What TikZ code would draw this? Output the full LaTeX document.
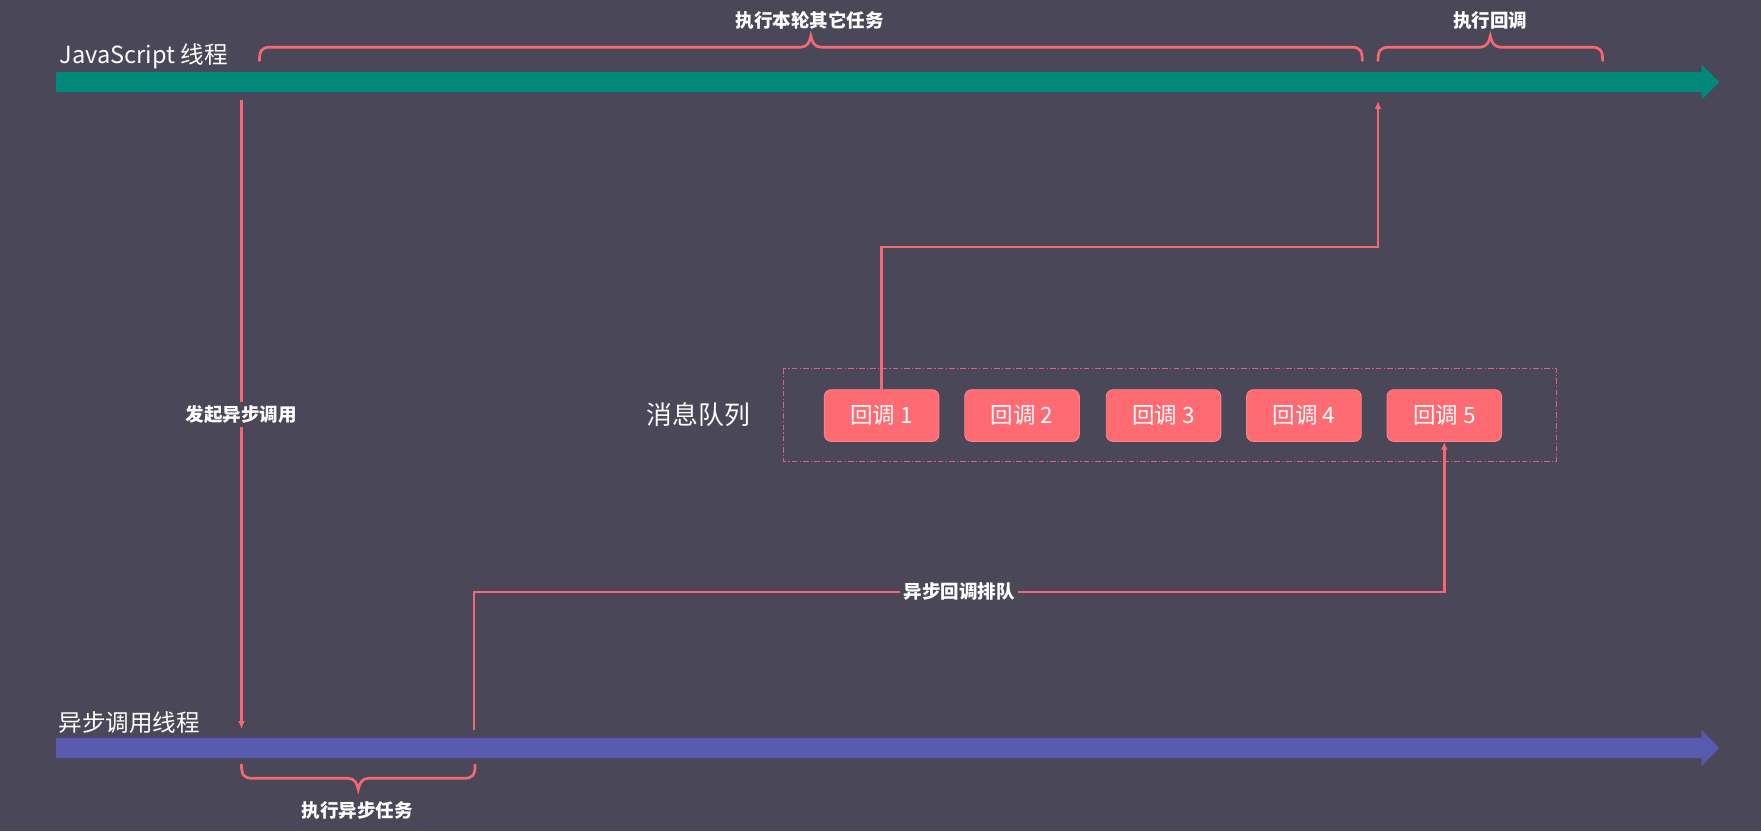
\documentclass[tikz,border=0pt]{standalone}
\usepackage{fontspec}
\setmainfont{Noto Sans CJK SC}
\usetikzlibrary{arrows.meta}
\definecolor{bgc}{RGB}{74,71,89}
\definecolor{jsteal}{RGB}{0,137,123}
\definecolor{asyncblue}{RGB}{88,90,176}
\definecolor{coral}{RGB}{255,107,115}
\definecolor{linec}{RGB}{245,104,114}
\definecolor{qdash}{RGB}{222,96,128}
\newcommand\mybrace[4]{% x1, x2, y of line, sign (tip direction)
  \draw[bracestyle] (#1,{#3-#4*12}) .. controls (#1,{#3-#4*3}) and ({#1+2},#3) .. ({#1+10},#3)
   -- ({(#1+#2)/2-9},#3) .. controls ({(#1+#2)/2-3},#3) and ({(#1+#2)/2-1},{#3+#4*5}) .. ({(#1+#2)/2},{#3+#4*10})
   .. controls ({(#1+#2)/2+1},{#3+#4*5}) and ({(#1+#2)/2+3},#3) .. ({(#1+#2)/2+9},#3)
   -- ({#2-10},#3) .. controls ({#2-2},#3) and (#2,{#3-#4*3}) .. (#2,{#3-#4*12});}
\begin{document}
\begin{tikzpicture}[x=1pt,y=-1pt,
  bracestyle/.style={draw=linec,line width=2.4pt,line cap=round},
  conn/.style={draw=linec,line width=2.4pt},
  tip/.style={-{Latex[length=7pt,width=6pt]}},
  lbl/.style={fill=bgc,text=white,inner sep=3pt,font=\fontsize{16.5}{18}\selectfont\bfseries},
  title/.style={text=white,inner sep=0pt,anchor=west,font=\fontsize{21}{24}\selectfont},
  cb/.style={fill=coral,draw=coral!85!white,line width=0.8pt,rounded corners=6pt,minimum width=102pt,minimum height=46pt,inner sep=0pt,text=white,font=\fontsize{20}{22}\selectfont}]
\fill[bgc] (0,0) rectangle (1568,740);
\useasboundingbox (0,0) rectangle (1568,740);
% thread bars
\fill[jsteal] (50,64) -- (1515,64) -- (1515,57) -- (1531,73) -- (1515,89) -- (1515,82) -- (50,82) -- cycle;
\fill[asyncblue] (50,657) -- (1515,657) -- (1515,650) -- (1531,666) -- (1515,682) -- (1515,675) -- (50,675) -- cycle;
\node[title] (jst) at (53,50) {JavaScript 线程};
\node[title] (ast) at (52,643) {异步调用线程};
% braces
\mybrace{231}{1213}{42}{(-1)}
\mybrace{1227}{1427}{42}{(-1)}
\mybrace{215}{423}{693}{(1)}
\node[lbl,fill=none] (b1) at (721,18) {执行本轮其它任务};
\node[lbl,fill=none] (b2) at (1327,18) {执行回调};
\node[lbl,fill=none] (b3) at (318,722) {执行异步任务};
% message queue
\draw[qdash,line width=1pt,dash pattern=on 5pt off 2pt on 1pt off 2pt] (698,328) rectangle (1386,411);
\node[text=white,inner sep=0pt,font=\fontsize{23}{26}\selectfont] (mq) at (622,369) {消息队列};
\node[cb] (c1) at (785,370) {回调 1};
\node[cb] (c2) at (910,370) {回调 2};
\node[cb] (c3) at (1036,370) {回调 3};
\node[cb] (c4) at (1161,370) {回调 4};
\node[cb] (c5) at (1286,370) {回调 5};
% connectors
\coordinate (jsA) at (215,89);
\coordinate (asA) at (215,649);
\coordinate (asB) at (422,650);
\coordinate (qq) at (854,527);
\coordinate (mm) at (1000,220);
\coordinate (jsB) at (1227,90);
\draw[conn,tip] (jsA) -- node[lbl] (l1) {发起异步调用} (asA);
\draw[conn,tip] (asB) |- (qq) -| (c5.south);
\node[lbl] (l2) at (qq) {异步回调排队};
\draw[conn,tip] (c1.north) |- (mm) -| (jsB);
\end{tikzpicture}
\end{document}
